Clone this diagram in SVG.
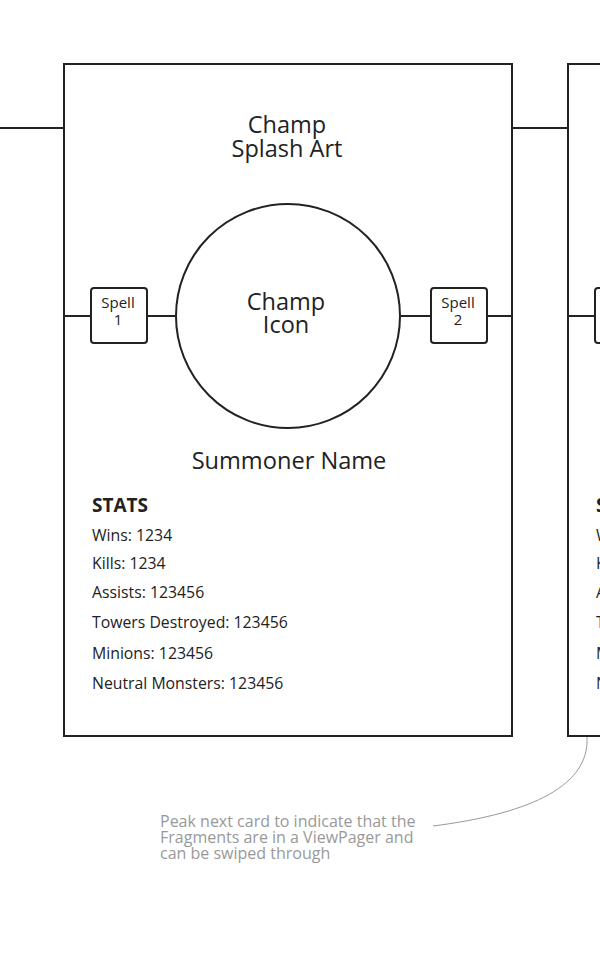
<svg xmlns="http://www.w3.org/2000/svg" width="600" height="960" viewBox="0 0 600 960">
<style>
.ln{stroke:#222;stroke-width:2;fill:none}
.card{fill:#fff;stroke:#222;stroke-width:2}
.box{fill:#fff;stroke:#222;stroke-width:2}
text{font-family:"Open Sans","Noto Sans",sans-serif;fill:#222}
.big{font-size:23.5px;text-anchor:middle}
.sp{font-size:15px;text-anchor:middle}
.st{font-size:15.8px}
.hd{font-size:19px;font-weight:bold}
.note{font-size:16px;fill:#999}
</style>
<rect width="600" height="960" fill="#fff"/>
<g id="card1">
<rect class="card" x="64" y="64" width="448" height="672"/>
<text class="big" x="287" y="133">Champ</text>
<text class="big" x="287" y="157">Splash Art</text>
<text class="big" style="font-size:23.6px" x="289" y="469">Summoner Name</text>
<text class="hd" x="92" y="512">STATS</text>
<text class="st" x="92" y="541">Wins: 1234</text>
<text class="st" x="92" y="569">Kills: 1234</text>
<text class="st" x="92" y="598">Assists: 123456</text>
<text class="st" x="92" y="628">Towers Destroyed: 123456</text>
<text class="st" x="92" y="659">Minions: 123456</text>
<text class="st" x="92" y="689">Neutral Monsters: 123456</text>
</g>
<g id="champ-icon">
<circle class="box" cx="288" cy="316" r="112"/>
<text class="big" x="286" y="310">Champ</text>
<text class="big" x="286" y="333">Icon</text>
</g>
<g id="spell1">
<rect class="box" x="91" y="288" width="56" height="55" rx="3"/>
<text class="sp" x="118" y="308">Spell</text>
<text class="sp" x="118" y="325">1</text>
</g>
<g id="spell2">
<rect class="box" x="431" y="288" width="56" height="55" rx="3"/>
<text class="sp" x="458" y="308">Spell</text>
<text class="sp" x="458" y="325">2</text>
</g>
<g id="card2">
<rect class="card" x="568" y="64" width="448" height="672"/>
<rect class="box" x="595" y="288" width="56" height="55" rx="3"/>
<text class="hd" x="596" y="512">STATS</text>
<text class="st" x="596" y="541">Wins: 1234</text>
<text class="st" x="596" y="569">Kills: 1234</text>
<text class="st" x="596" y="598">Assists: 123456</text>
<text class="st" x="596" y="628">Towers Destroyed: 123456</text>
<text class="st" x="596" y="659">Minions: 123456</text>
<text class="st" x="596" y="689">Neutral Monsters: 123456</text>
</g>
<g id="note">
<text class="note" x="160" y="827">Peak next card to indicate that the</text>
<text class="note" x="160" y="843">Fragments are in a ViewPager and</text>
<text class="note" x="160" y="859">can be swiped through</text>
</g>
<g id="connectors">
<line class="ln" x1="0" y1="128" x2="64" y2="128"/>
<line class="ln" x1="512" y1="128" x2="568" y2="128"/>
<line class="ln" x1="64" y1="316" x2="91" y2="316"/>
<line class="ln" x1="147" y1="316" x2="176" y2="316"/>
<line class="ln" x1="400" y1="316" x2="431" y2="316"/>
<line class="ln" x1="487" y1="316" x2="512" y2="316"/>
<line class="ln" x1="568" y1="316" x2="595" y2="316"/>
<path d="M433,826 C520,815 590,790 587,737" fill="none" stroke="#999" stroke-width="1"/>
</g>
</svg>
